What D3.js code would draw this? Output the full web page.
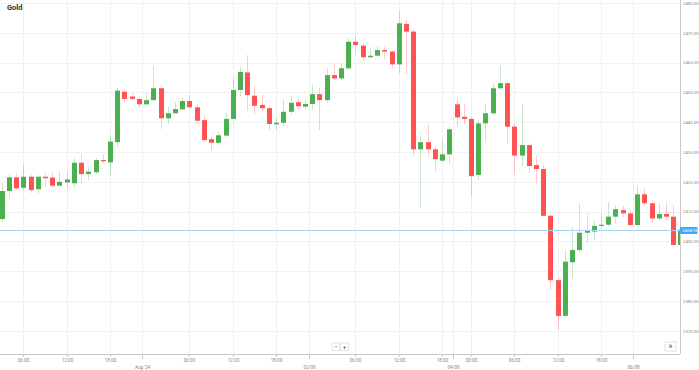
<!DOCTYPE html>
<html lang="en">
<head>
    <meta charset="UTF-8">
    <title>Gold</title>
    <script src="https://d3js.org/d3.v7.min.js"></script>
    <style>
        body { margin: 0; background: #fff; }
        svg { display: block; font-family: Roboto, "Open Sans", sans-serif; }
    </style>
</head>
<body>
    <div id="chart"></div>
    <script>
        // hourly candles, 31 Jul 03:00 -> 06 Aug
        const open = [2412.5, 2421.9, 2426.5, 2423.0, 2426.7, 2422.5, 2426.7, 2426.4, 2423.7, 2424.8,
            2424.5, 2431.4, 2427.6, 2428.2, 2432.3, 2431.5, 2438.3, 2455.2, 2453.6, 2452.8,
            2451.0, 2452.4, 2456.4, 2446.3, 2448.0, 2449.3, 2452.1, 2450.0, 2445.7, 2439.3,
            2438.1, 2440.5, 2446.1, 2455.8, 2461.7, 2453.9, 2450.8, 2449.7, 2444.3, 2444.8,
            2448.5, 2451.7, 2450.2, 2451.1, 2454.4, 2452.4, 2460.8, 2459.7, 2463.1, 2472.0,
            2470.7, 2466.8, 2467.3, 2469.2, 2468.7, 2464.4, 2478.0, 2475.4, 2435.9, 2438.3,
            2435.9, 2432.1, 2434.2, 2451.0, 2446.8, 2446.1, 2427.3, 2444.6, 2448.0, 2456.4,
            2458.1, 2443.5, 2433.8, 2437.3, 2430.6, 2429.3, 2413.6, 2392.0, 2380.0, 2398.0,
            2402.1, 2407.9, 2408.3, 2410.2, 2410.6, 2413.3, 2415.5, 2414.4, 2410.5, 2420.8,
            2417.8, 2412.7, 2414.2, 2413.3, 2403.8];
        const high = [2424.6, 2427.5, 2427.9, 2430.9, 2427.3, 2427.3, 2427.9, 2428.2, 2428.6, 2428.2,
            2432.9, 2434.2, 2430.1, 2433.0, 2434.2, 2440.7, 2456.4, 2456.1, 2454.7, 2453.6,
            2454.9, 2463.9, 2456.8, 2450.0, 2451.9, 2453.2, 2454.1, 2450.8, 2447.4, 2440.0,
            2442.0, 2448.2, 2460.1, 2463.6, 2467.5, 2456.9, 2454.1, 2450.4, 2446.4, 2452.8,
            2453.8, 2452.8, 2452.4, 2457.5, 2456.5, 2462.9, 2464.8, 2464.8, 2473.3, 2473.7,
            2471.6, 2470.3, 2470.6, 2470.3, 2469.2, 2482.6, 2479.3, 2476.3, 2440.7, 2444.4,
            2437.0, 2439.0, 2443.5, 2453.4, 2451.3, 2446.7, 2445.7, 2451.3, 2458.1, 2464.0,
            2458.8, 2444.4, 2451.0, 2437.9, 2434.0, 2430.6, 2414.5, 2392.7, 2402.1, 2409.9,
            2417.8, 2414.4, 2412.2, 2414.4, 2418.3, 2417.2, 2416.9, 2415.5, 2423.6, 2422.8,
            2418.9, 2417.8, 2418.0, 2417.2, 2413.3];
        const low = [2411.5, 2419.8, 2422.2, 2422.2, 2421.3, 2420.8, 2423.4, 2423.0, 2423.6, 2422.8,
            2423.0, 2424.5, 2425.3, 2427.6, 2431.2, 2426.9, 2436.6, 2451.5, 2452.4, 2449.7,
            2450.8, 2451.9, 2442.7, 2444.6, 2447.7, 2449.1, 2449.8, 2444.4, 2438.5, 2435.7,
            2437.3, 2440.0, 2445.4, 2453.8, 2448.8, 2447.6, 2448.5, 2442.4, 2442.4, 2443.7,
            2447.4, 2449.1, 2449.4, 2449.1, 2442.4, 2451.4, 2459.2, 2459.2, 2462.5, 2468.1,
            2465.9, 2466.5, 2466.9, 2466.4, 2463.1, 2461.4, 2461.2, 2433.7, 2416.3, 2433.4,
            2428.4, 2431.6, 2431.0, 2443.5, 2444.6, 2420.0, 2425.6, 2438.5, 2447.4, 2455.8,
            2437.9, 2427.5, 2430.1, 2428.0, 2424.5, 2413.5, 2388.7, 2375.3, 2379.3, 2392.6,
            2401.4, 2404.4, 2405.5, 2409.4, 2409.9, 2411.1, 2413.3, 2409.9, 2409.9, 2417.2,
            2411.3, 2412.2, 2412.4, 2403.8, 2400.1];
        const close = [2421.9, 2426.5, 2422.8, 2426.7, 2422.2, 2426.7, 2426.2, 2423.7, 2425.0, 2425.8,
            2431.4, 2427.6, 2428.4, 2432.3, 2431.9, 2438.5, 2455.6, 2452.8, 2452.8, 2451.0,
            2452.4, 2456.4, 2446.3, 2448.0, 2449.4, 2452.1, 2450.0, 2445.5, 2439.0, 2438.1,
            2440.6, 2446.1, 2455.8, 2461.9, 2454.1, 2450.5, 2449.7, 2444.4, 2444.8, 2448.5,
            2451.5, 2450.4, 2451.1, 2454.4, 2452.4, 2460.8, 2459.7, 2463.1, 2472.0, 2470.9,
            2466.8, 2467.3, 2469.2, 2468.7, 2464.4, 2478.2, 2475.4, 2435.9, 2438.3, 2435.9,
            2432.6, 2434.2, 2442.6, 2446.6, 2446.1, 2426.9, 2444.6, 2448.0, 2456.4, 2458.1,
            2443.5, 2433.8, 2437.3, 2430.3, 2429.3, 2413.6, 2392.0, 2380.0, 2398.2, 2402.1,
            2407.9, 2408.5, 2410.2, 2410.6, 2413.3, 2415.8, 2414.4, 2410.5, 2420.8, 2417.8,
            2412.7, 2414.2, 2413.3, 2403.8, 2408.96];

        // x tick positions are candle indexes (day labels sit in the daily break)
        const tickPos = [3, 9, 15, 19.5, 26, 32, 38, 42.5, 49, 55, 61, 62.5, 65, 71, 77, 83, 87.5];
        const tickText = ["06:00", "12:00", "18:00", "Aug '24", "06:00", "12:00", "18:00", "02/08",
            "06:00", "12:00", "18:00", "04/08", "00:00", "06:00", "12:00", "18:00", "06/08"];
        const tickRow = [0, 0, 0, 1, 0, 0, 0, 1, 0, 0, 0, 1, 0, 0, 0, 0, 1];
        const priceTicks = [2375, 2385, 2395, 2405, 2415, 2425, 2435, 2445, 2455, 2465, 2475, 2485];
        const lastPrice = 2408.96;

        const width = 699;
        const height = 370;
        const plotRight = 680;
        const plotBottom = 354;
        const up = "#4caf50";
        const down = "#ff5252";

        const svg = d3.select("#chart")
            .append("svg")
            .attr("width", width)
            .attr("height", height);

        const x = d3.scaleLinear()
            .domain([0, open.length - 1])
            .range([1.7, 1.7 + 7.22 * (open.length - 1)]);

        const y = d3.scaleLinear()
            .domain([2375, 2485])
            .range([330.8, 3]);

        svg.append("clipPath").attr("id", "plot-clip")
            .append("rect")
            .attr("x", 0).attr("y", 0)
            .attr("width", plotRight).attr("height", plotBottom);

        // grid
        svg.append("g")
            .selectAll("line")
            .data(priceTicks)
            .join("line")
            .attr("x1", 0).attr("x2", plotRight)
            .attr("y1", d => Math.round(y(d)) + 0.5)
            .attr("y2", d => Math.round(y(d)) + 0.5)
            .attr("stroke", "#f2f2f2");

        svg.append("g")
            .selectAll("line")
            .data(tickPos)
            .join("line")
            .attr("x1", d => Math.round(x(d)) + 0.5)
            .attr("x2", d => Math.round(x(d)) + 0.5)
            .attr("y1", 0).attr("y2", plotBottom)
            .attr("stroke", "#f0f0f0");

        // title
        svg.append("text")
            .attr("x", 7)
            .attr("y", 10)
            .attr("font-size", "7.5px")
            .attr("font-weight", "bold")
            .attr("fill", "#333")
            .text("Gold");

        // candles
        const candles = svg.append("g")
            .attr("clip-path", "url(#plot-clip)")
            .selectAll("g")
            .data(d3.range(open.length))
            .join("g");

        candles.append("line")
            .attr("x1", i => Math.round(x(i)) + 0.5)
            .attr("x2", i => Math.round(x(i)) + 0.5)
            .attr("y1", i => y(high[i]))
            .attr("y2", i => y(low[i]))
            .attr("stroke", i => close[i] >= open[i] ? up : down)
            .attr("stroke-opacity", 0.3)
            .attr("stroke-width", 1);

        candles.append("rect")
            .attr("x", i => Math.round(x(i)) - 2)
            .attr("width", 5)
            .attr("y", i => y(Math.max(open[i], close[i])))
            .attr("height", i => Math.max(1, Math.abs(y(open[i]) - y(close[i]))))
            .attr("fill", i => close[i] >= open[i] ? up : down);

        // last price line
        svg.append("line")
            .attr("x1", 0).attr("x2", plotRight)
            .attr("y1", Math.round(y(lastPrice)) + 0.5)
            .attr("y2", Math.round(y(lastPrice)) + 0.5)
            .attr("stroke", "#a9d3f5");

        // axes
        const yAxis = svg.append("g")
            .attr("transform", `translate(${plotRight + 0.5},0)`)
            .call(d3.axisRight(y).tickValues(priceTicks).tickSize(0).tickPadding(2.5)
                .tickFormat(d => d.toFixed(2)));
        yAxis.select(".domain").attr("stroke", "#c8c8c8").attr("d", `M0,0V${plotBottom}`);
        yAxis.selectAll("text")
            .attr("font-size", "4.3px")
            .attr("fill", "#888")
            .attr("font-family", "Roboto, sans-serif");

        svg.append("line")
            .attr("x1", 0).attr("x2", plotRight)
            .attr("y1", plotBottom + 0.5).attr("y2", plotBottom + 0.5)
            .attr("stroke", "#c8c8c8");

        const xt = svg.append("g")
            .selectAll("g")
            .data(tickPos)
            .join("g")
            .attr("transform", d => `translate(${Math.round(x(d)) + 0.5},${plotBottom})`);
        xt.append("line")
            .attr("y1", 0)
            .attr("y2", (d, i) => tickRow[i] ? 5 : 3)
            .attr("stroke", "#c8c8c8");
        xt.append("text")
            .attr("y", (d, i) => tickRow[i] ? 14.5 : 8)
            .attr("text-anchor", "middle")
            .attr("font-size", "4.6px")
            .attr("fill", "#888")
            .text((d, i) => tickText[i]);

        // last price tag
        const tag = svg.append("g")
            .attr("transform", `translate(${plotRight},${Math.round(y(lastPrice)) + 0.5})`);
        tag.append("rect")
            .attr("x", 0).attr("y", -3.5)
            .attr("width", 17.5).attr("height", 7)
            .attr("rx", 1)
            .attr("fill", "#42a5f5");
        tag.append("text")
            .attr("x", 2.2).attr("y", 1.6)
            .attr("font-size", "4.3px")
            .attr("fill", "#fff")
            .text(lastPrice.toFixed(2));

        // zoom buttons
        const btns = svg.append("g").attr("transform", "translate(332,343)");
        ["\u2212", "+"].forEach((s, i) => {
            btns.append("rect")
                .attr("x", i * 8.5).attr("y", 0)
                .attr("width", 8).attr("height", 7.5)
                .attr("fill", "#fff")
                .attr("stroke", "#e3e3e3");
            btns.append("text")
                .attr("x", i * 8.5 + 4).attr("y", 5.8)
                .attr("text-anchor", "middle")
                .attr("font-size", "6px")
                .attr("fill", "#444")
                .text(s);
        });

        const ff = svg.append("g").attr("transform", "translate(665,342)");
        ff.append("rect")
            .attr("width", 11).attr("height", 9)
            .attr("fill", "#fff")
            .attr("stroke", "#e3e3e3");
        ff.append("text")
            .attr("x", 5.5).attr("y", 7)
            .attr("text-anchor", "middle")
            .attr("font-size", "8.5px")
            .attr("fill", "#444")
            .text("\u00bb");
    </script>
</body>
</html>
